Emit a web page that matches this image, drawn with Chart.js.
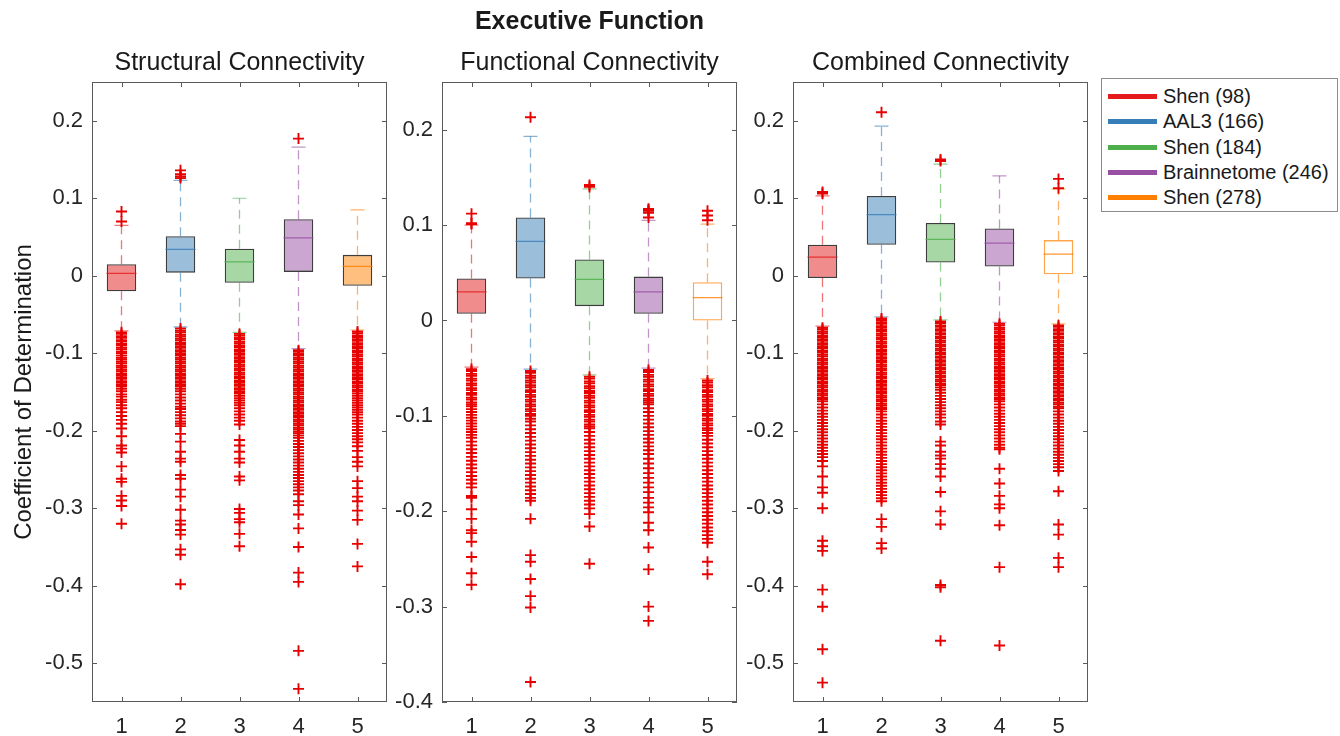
<!DOCTYPE html>
<html>
<head>
<meta charset="utf-8">
<title>Executive Function</title>
<script src="https://cdn.jsdelivr.net/npm/chart.js@4.4.1/dist/chart.umd.min.js"></script>
<style>
  body { margin: 0; background: #fff; }
  #wrap { position: relative; width: 1340px; height: 736px; overflow: hidden; }
  canvas { position: absolute; top: 0; }
  #legend {
    position: absolute; left: 1101px; top: 78px; width: 237px; height: 134px;
    border: 1px solid #8c8c8c; box-sizing: border-box; padding-top: 5px;
    font: 20px "Liberation Sans", Arial, Helvetica, sans-serif; color: #1a1a1a;
  }
  .item { display: flex; align-items: center; height: 25.3px; white-space: nowrap; }
  .sw { display: inline-block; width: 49px; height: 5px; margin: 0 6px 0 6px; }
</style>
</head>
<body>
<div id="wrap">
  <canvas id="structural" width="390" height="736" style="left:0px"></canvas>
  <canvas id="functional" width="360" height="736" style="left:380px"></canvas>
  <canvas id="combined" width="360" height="736" style="left:731px"></canvas>
  <div id="legend"></div>
</div>
<script>
const mainTitle = 'Executive Function';
const yTitle = 'Coefficient of Determination';
const panelTitles = ['Structural Connectivity', 'Functional Connectivity', 'Combined Connectivity'];
const categories = ['1', '2', '3', '4', '5'];
const atlasNames = ['Shen (98)', 'AAL3 (166)', 'Shen (184)', 'Brainnetome (246)', 'Shen (278)'];
const atlasColors = ['#E41A1C', '#377EB8', '#4DAF4A', '#984EA3', '#FF7F00'];

// y ranges [min, max] and tick labels
const structRange = [-0.55, 0.25];
const funcRange = [-0.4, 0.25];
const combRange = [-0.55, 0.25];
const structTicks = [-0.5, -0.4, -0.3, -0.2, -0.1, 0, 0.1, 0.2];
const funcTicks = [-0.4, -0.3, -0.2, -0.1, 0, 0.1, 0.2];
const combTicks = [-0.5, -0.4, -0.3, -0.2, -0.1, 0, 0.1, 0.2];

// structural connectivity
const structQ1 = [-0.020, 0.004, -0.009, 0.005, -0.013];
const structMedian = [0.003, 0.034, 0.018, 0.049, 0.012];
const structQ3 = [0.015, 0.051, 0.035, 0.073, 0.027];
const structLow = [-0.071, -0.066, -0.073, -0.094, -0.070];
const structHigh = [0.065, 0.123, 0.100, 0.166, 0.085];
const structOutliers = [
  [0.083, 0.070,
   -0.073, -0.075, -0.078, -0.080, -0.083, -0.085, -0.088, -0.090, -0.093, -0.095, -0.098, -0.100, -0.103, -0.106,
   -0.108, -0.111, -0.113, -0.116, -0.118, -0.121, -0.123, -0.126, -0.128, -0.131, -0.133, -0.136, -0.138, -0.141, -0.143,
   -0.146, -0.149, -0.153, -0.156, -0.160, -0.163, -0.167, -0.171, -0.176, -0.181, -0.186, -0.191,
   -0.197, -0.207, -0.219, -0.223, -0.228, -0.246, -0.262, -0.266, -0.284, -0.290, -0.297, -0.320],
  [0.136, 0.131, 0.128, 0.126,
   -0.068, -0.071, -0.073, -0.076, -0.078, -0.081, -0.083, -0.086, -0.088, -0.091, -0.093, -0.096, -0.098, -0.101,
   -0.103, -0.106, -0.108, -0.111, -0.113, -0.116, -0.118, -0.121, -0.123, -0.126, -0.128, -0.131, -0.133, -0.136,
   -0.138, -0.141, -0.143, -0.146, -0.149,
   -0.153, -0.157, -0.161, -0.165, -0.169, -0.172, -0.176, -0.180, -0.184, -0.188, -0.191, -0.194,
   -0.204, -0.214, -0.227, -0.236, -0.240, -0.257, -0.262, -0.276, -0.285, -0.302, -0.316, -0.321, -0.328, -0.334,
   -0.353, -0.360, -0.398],
  [-0.075, -0.077, -0.080, -0.082, -0.085, -0.087, -0.090, -0.092, -0.095, -0.097, -0.100, -0.102, -0.105, -0.107,
   -0.110, -0.112, -0.115, -0.117, -0.120, -0.122, -0.125, -0.127, -0.130, -0.132, -0.135, -0.137, -0.140, -0.142,
   -0.145, -0.147, -0.150, -0.152, -0.155, -0.158, -0.161, -0.164, -0.167, -0.171,
   -0.175, -0.179, -0.183, -0.187, -0.192,
   -0.212, -0.219, -0.227, -0.236, -0.241, -0.259, -0.264, -0.301, -0.306, -0.314, -0.318, -0.333, -0.349],
  [0.177,
   -0.096, -0.098, -0.101, -0.103, -0.106, -0.108, -0.111, -0.113, -0.116, -0.118, -0.121, -0.123, -0.126, -0.128,
   -0.131, -0.133, -0.136, -0.138, -0.141, -0.143, -0.146, -0.148, -0.151, -0.153, -0.156, -0.158, -0.161, -0.163,
   -0.166, -0.168, -0.171, -0.173, -0.176, -0.178, -0.181, -0.183, -0.186, -0.188, -0.191, -0.193, -0.196, -0.198,
   -0.201, -0.203, -0.206, -0.209,
   -0.213, -0.217, -0.221, -0.225, -0.229, -0.233, -0.237, -0.241, -0.245, -0.249, -0.253, -0.257, -0.261, -0.265,
   -0.269, -0.273, -0.277, -0.282,
   -0.291, -0.296, -0.308, -0.326, -0.350, -0.383, -0.395, -0.484, -0.533],
  [-0.072, -0.074, -0.077, -0.079, -0.082, -0.084, -0.087, -0.089, -0.092, -0.094, -0.097, -0.099, -0.102, -0.104,
   -0.107, -0.109, -0.112, -0.114, -0.117, -0.119, -0.122, -0.124, -0.127, -0.129, -0.132, -0.134, -0.137, -0.139,
   -0.142, -0.144, -0.147, -0.149, -0.152, -0.155, -0.158, -0.161, -0.164, -0.167, -0.170, -0.173, -0.176, -0.179,
   -0.183, -0.187, -0.191, -0.195, -0.199, -0.203, -0.207, -0.211, -0.215, -0.220,
   -0.226, -0.234, -0.240, -0.246, -0.265, -0.274, -0.285, -0.291, -0.303, -0.315, -0.346, -0.375]
];

// functional connectivity
const funcQ1 = [0.007, 0.044, 0.015, 0.007, 0.000];
const funcMedian = [0.030, 0.083, 0.043, 0.030, 0.024];
const funcQ3 = [0.044, 0.108, 0.064, 0.046, 0.040];
const funcLow = [-0.049, -0.051, -0.057, -0.050, -0.061];
const funcHigh = [0.100, 0.193, 0.138, 0.105, 0.101];
const funcOutliers = [
  [0.112, 0.102, 0.101,
   -0.051, -0.053, -0.056, -0.058, -0.061, -0.063, -0.066, -0.068, -0.071, -0.073, -0.076, -0.078, -0.081, -0.083,
   -0.086, -0.088, -0.090,
   -0.093, -0.096, -0.099, -0.102, -0.105, -0.108, -0.111, -0.114, -0.117, -0.120, -0.123,
   -0.127, -0.131, -0.135, -0.139, -0.143, -0.147, -0.151, -0.155, -0.159, -0.163, -0.167, -0.171, -0.175,
   -0.184, -0.186, -0.198, -0.208, -0.220, -0.223, -0.232, -0.248, -0.265, -0.277],
  [0.213,
   -0.053, -0.055, -0.058, -0.060, -0.063, -0.065, -0.068, -0.070, -0.073, -0.075, -0.078, -0.080, -0.083, -0.085,
   -0.088, -0.090, -0.093, -0.095, -0.098, -0.100, -0.103, -0.106,
   -0.110, -0.114, -0.118, -0.122, -0.126, -0.130, -0.134, -0.138, -0.142, -0.146, -0.150, -0.154, -0.158, -0.162,
   -0.166, -0.170, -0.174, -0.178, -0.182, -0.186, -0.189,
   -0.208, -0.246, -0.253, -0.271, -0.289, -0.301, -0.379],
  [0.142, 0.140,
   -0.059, -0.061, -0.064, -0.066, -0.069, -0.071, -0.074, -0.076, -0.079, -0.081, -0.084, -0.086, -0.089, -0.091,
   -0.094, -0.096, -0.099, -0.101, -0.104, -0.106, -0.109, -0.111, -0.113,
   -0.117, -0.121, -0.125, -0.129, -0.133, -0.137, -0.141, -0.145, -0.149, -0.153, -0.157, -0.161, -0.165, -0.169,
   -0.173, -0.177, -0.181, -0.185, -0.189, -0.193, -0.197, -0.203,
   -0.216, -0.255],
  [0.117, 0.116, 0.115, 0.113, 0.108,
   -0.052, -0.054, -0.057, -0.059, -0.062, -0.064, -0.067, -0.069, -0.072, -0.074, -0.077, -0.079, -0.082, -0.084,
   -0.086, -0.088,
   -0.092, -0.096, -0.100, -0.104, -0.108, -0.112, -0.116, -0.120, -0.124, -0.128, -0.132, -0.136, -0.140, -0.145,
   -0.150, -0.155, -0.160, -0.165, -0.170, -0.175, -0.180, -0.186, -0.191, -0.196, -0.201,
   -0.212, -0.220, -0.238, -0.261, -0.300, -0.315],
  [0.115, 0.110, 0.105,
   -0.063, -0.065, -0.068, -0.070, -0.073, -0.075, -0.078, -0.080, -0.083, -0.085, -0.088, -0.090, -0.093, -0.095,
   -0.098, -0.100, -0.103, -0.105, -0.108, -0.110, -0.113, -0.115, -0.118,
   -0.121, -0.125, -0.129, -0.133, -0.137, -0.141, -0.145, -0.149, -0.153, -0.157, -0.161, -0.165, -0.169, -0.173,
   -0.177, -0.181, -0.185, -0.189, -0.193, -0.197, -0.201, -0.205, -0.209, -0.213, -0.217, -0.221, -0.225, -0.229, -0.233,
   -0.253, -0.266]
];

// combined connectivity
const combQ1 = [-0.003, 0.040, 0.017, 0.012, 0.002];
const combMedian = [0.024, 0.079, 0.047, 0.042, 0.028];
const combQ3 = [0.040, 0.103, 0.068, 0.061, 0.046];
const combLow = [-0.065, -0.053, -0.057, -0.060, -0.062];
const combHigh = [0.103, 0.193, 0.144, 0.129, 0.112];
const combOutliers = [
  [0.108, 0.106,
   -0.067, -0.069, -0.072, -0.074, -0.077, -0.079, -0.082, -0.084, -0.087, -0.089, -0.092, -0.094, -0.097, -0.099,
   -0.102, -0.104, -0.107, -0.109, -0.112, -0.114, -0.117, -0.119, -0.122, -0.124, -0.127, -0.129, -0.132, -0.134,
   -0.137, -0.139, -0.142, -0.144, -0.147, -0.149, -0.152, -0.154, -0.157, -0.159, -0.162,
   -0.166, -0.170, -0.174, -0.178, -0.182, -0.186, -0.190, -0.194, -0.198, -0.202, -0.206, -0.210, -0.214, -0.218,
   -0.222, -0.226, -0.230, -0.234, -0.239,
   -0.246, -0.259, -0.273, -0.280, -0.300, -0.342, -0.349, -0.355, -0.405, -0.427, -0.482, -0.525],
  [0.211,
   -0.055, -0.057, -0.060, -0.062, -0.065, -0.067, -0.070, -0.072, -0.075, -0.077, -0.080, -0.082, -0.085, -0.087,
   -0.090, -0.092, -0.095, -0.097, -0.100, -0.102, -0.105, -0.107, -0.110, -0.112, -0.115, -0.117, -0.120, -0.122,
   -0.125, -0.127, -0.130, -0.132, -0.135, -0.137, -0.140, -0.142, -0.145, -0.147, -0.150, -0.152, -0.155, -0.157,
   -0.160, -0.162, -0.165, -0.167, -0.170, -0.172, -0.175,
   -0.179, -0.183, -0.187, -0.191, -0.195, -0.199, -0.203, -0.207, -0.211, -0.215, -0.219, -0.223, -0.227, -0.231,
   -0.235, -0.239, -0.243, -0.247, -0.251, -0.255, -0.259, -0.263, -0.267, -0.271, -0.275, -0.279, -0.283, -0.287, -0.291,
   -0.314, -0.324, -0.345, -0.352],
  [0.150, 0.148,
   -0.059, -0.061, -0.064, -0.066, -0.069, -0.071, -0.074, -0.076, -0.079, -0.081, -0.084, -0.086, -0.089, -0.091,
   -0.094, -0.096, -0.099, -0.101, -0.104, -0.106, -0.109, -0.111, -0.114, -0.116, -0.119, -0.121, -0.124, -0.126,
   -0.129, -0.131, -0.134, -0.136, -0.139, -0.141, -0.144, -0.147,
   -0.151, -0.155, -0.159, -0.163, -0.167, -0.171, -0.175, -0.179, -0.183, -0.188, -0.192,
   -0.214, -0.219, -0.227, -0.232, -0.236, -0.243, -0.249, -0.259, -0.279, -0.304, -0.321, -0.399, -0.402, -0.471],
  [-0.062, -0.064, -0.067, -0.069, -0.072, -0.074, -0.077, -0.079, -0.082, -0.084, -0.087, -0.089, -0.092, -0.094,
   -0.097, -0.099, -0.102, -0.104, -0.107, -0.109, -0.112, -0.114, -0.117, -0.119, -0.122, -0.124, -0.127, -0.129,
   -0.132, -0.134, -0.137, -0.139, -0.142, -0.144, -0.147, -0.149, -0.152, -0.154, -0.157, -0.159, -0.162, -0.166,
   -0.170, -0.174, -0.178, -0.182, -0.186, -0.190, -0.194, -0.198, -0.202, -0.206, -0.210, -0.214, -0.218, -0.222, -0.224,
   -0.249, -0.268, -0.284, -0.295, -0.300, -0.322, -0.376, -0.477],
  [0.125, 0.113,
   -0.064, -0.066, -0.069, -0.071, -0.074, -0.076, -0.079, -0.081, -0.084, -0.086, -0.089, -0.091, -0.094, -0.096,
   -0.099, -0.101, -0.104, -0.106, -0.109, -0.111, -0.114, -0.116, -0.119, -0.121, -0.124, -0.126, -0.129, -0.131,
   -0.134, -0.136, -0.139, -0.141, -0.144, -0.146, -0.149, -0.151, -0.154, -0.156, -0.159, -0.161, -0.164, -0.166,
   -0.169, -0.171,
   -0.175, -0.179, -0.183, -0.187, -0.191, -0.195, -0.199, -0.203, -0.207, -0.211, -0.215, -0.219, -0.223, -0.227,
   -0.231, -0.235, -0.239, -0.243, -0.247, -0.252,
   -0.278, -0.321, -0.334, -0.364, -0.376]
];

Chart.defaults.font.family = '"Liberation Sans", Arial, Helvetica, sans-serif';
Chart.defaults.color = '#262626';

function rgba(hex, a) {
  const n = parseInt(hex.slice(1), 16);
  return 'rgba(' + (n >> 16) + ',' + ((n >> 8) & 255) + ',' + (n & 255) + ',' + a + ')';
}

// matlab style box: frame + inward ticks on all sides
const frameTicks = {
  id: 'frameTicks',
  afterDraw(chart) {
    const {ctx, chartArea: a, scales: {x, y}} = chart;
    const len = 5;
    ctx.save();
    ctx.strokeStyle = '#5a5a5a';
    ctx.lineWidth = 1;
    ctx.strokeRect(Math.round(a.left) + 0.5, Math.round(a.top) + 0.5,
      Math.round(a.right - a.left) - 1, Math.round(a.bottom - a.top) - 1);
    ctx.beginPath();
    y.ticks.forEach(t => {
      const py = Math.round(y.getPixelForValue(t.value)) + 0.5;
      ctx.moveTo(a.left, py); ctx.lineTo(a.left + len, py);
      ctx.moveTo(a.right, py); ctx.lineTo(a.right - len, py);
    });
    x.ticks.forEach((t, i) => {
      const px = Math.round(x.getPixelForTick(i)) + 0.5;
      ctx.moveTo(px, a.top); ctx.lineTo(px, a.top + len);
      ctx.moveTo(px, a.bottom); ctx.lineTo(px, a.bottom - len);
    });
    ctx.stroke();
    ctx.restore();
  }
};

function makePanel(id, p) {
  const fills = atlasColors.map((c, i) => (p.hollowLast && i === 4) ? 'rgba(255,255,255,0)' : rgba(c, 0.5));
  const borders = atlasColors.map((c, i) => (p.hollowLast && i === 4) ? rgba(c, 0.7) : '#3d3d3d');

  const outlierPts = p.out.flatMap((vals, i) => vals.map(v => ({x: categories[i], y: v})));

  const datasets = [
    {
      type: 'line', data: outlierPts, showLine: false,
      pointStyle: 'cross', pointRadius: 5.5, pointBorderColor: '#e60000', pointBorderWidth: 1.9,
      order: 0
    },
    {
      type: 'line', data: categories.map((c, i) => ({x: c, y: p.med[i]})), showLine: false,
      pointStyle: 'line', pointRadius: 15, pointBorderWidth: 1.3,
      pointBorderColor: atlasColors.map(c => rgba(c, 0.8)),
      order: 1
    },
    {
      type: 'bar', data: categories.map((c, i) => [p.q1[i], p.q3[i]]),
      backgroundColor: fills, borderColor: borders, borderWidth: 1.3, borderSkipped: false,
      barPercentage: 0.5, categoryPercentage: 1,
      order: 2
    }
  ];
  categories.forEach((c, i) => {
    datasets.push({
      type: 'line',
      data: [{x: c, y: p.q3[i]}, {x: c, y: p.hi[i]}, {x: c, y: null}, {x: c, y: p.q1[i]}, {x: c, y: p.lo[i]}],
      borderColor: rgba(atlasColors[i], 0.6), borderWidth: 1.3, borderDash: [9, 6],
      pointStyle: 'line', pointRadius: [0, 7, 0, 0, 7], pointBorderWidth: 1.2,
      pointBorderColor: rgba(atlasColors[i], 0.6), spanGaps: false,
      order: 3
    });
  });

  const plugins = {legend: {display: false}, tooltip: {enabled: false}};
  if (p.main) {
    plugins.title = {display: true, text: p.main, fullSize: false, color: '#1a1a1a',
      font: {size: 25, weight: 'bold'}, padding: {top: 7, bottom: 0}};
    plugins.subtitle = {display: true, text: p.title, fullSize: false, color: '#1a1a1a',
      font: {size: 25, weight: 'normal'}, padding: {top: 11, bottom: 4}};
  } else {
    plugins.title = {display: true, text: p.title, fullSize: false, color: '#1a1a1a',
      font: {size: 25, weight: 'normal'}, padding: {top: 48, bottom: 4}};
  }

  return new Chart(document.getElementById(id), {
    type: 'bar',
    data: {labels: categories, datasets: datasets},
    options: {
      responsive: false, animation: false, devicePixelRatio: 1,
      layout: {autoPadding: false, padding: {left: 0, right: 3, top: 0, bottom: 0}},
      plugins: plugins,
      scales: {
        x: {
          type: 'category', offset: true,
          grid: {display: false, drawTicks: false}, border: {display: false},
          ticks: {font: {size: 22}, color: '#262626', padding: 12},
          afterFit: s => { s.height = 34; }
        },
        y: {
          type: 'linear', min: p.range[0], max: p.range[1],
          grid: {display: false, drawTicks: false}, border: {display: false},
          ticks: {font: {size: 22}, color: '#262626', padding: 9, callback: v => String(v)},
          afterBuildTicks: s => { s.ticks = p.ticks.map(v => ({value: v})); },
          title: {display: !!p.yTitle, text: p.yTitle || '', font: {size: 24}, color: '#1a1a1a', padding: {top: 10}},
          afterFit: s => { s.width = p.axisWidth; }
        }
      }
    },
    plugins: [frameTicks]
  });
}

makePanel('structural', {
  title: panelTitles[0], yTitle: yTitle, axisWidth: 92, range: structRange, ticks: structTicks,
  q1: structQ1, med: structMedian, q3: structQ3, lo: structLow, hi: structHigh, out: structOutliers
});
makePanel('functional', {
  title: panelTitles[1], main: mainTitle, axisWidth: 62, range: funcRange, ticks: funcTicks, hollowLast: true,
  q1: funcQ1, med: funcMedian, q3: funcQ3, lo: funcLow, hi: funcHigh, out: funcOutliers
});
makePanel('combined', {
  title: panelTitles[2], axisWidth: 62, range: combRange, ticks: combTicks, hollowLast: true,
  q1: combQ1, med: combMedian, q3: combQ3, lo: combLow, hi: combHigh, out: combOutliers
});

const legend = document.getElementById('legend');
atlasNames.forEach((name, i) => {
  const row = document.createElement('div');
  row.className = 'item';
  const sw = document.createElement('span');
  sw.className = 'sw';
  sw.style.background = atlasColors[i];
  const label = document.createElement('span');
  label.textContent = name;
  row.appendChild(sw);
  row.appendChild(label);
  legend.appendChild(row);
});
</script>
</body>
</html>
